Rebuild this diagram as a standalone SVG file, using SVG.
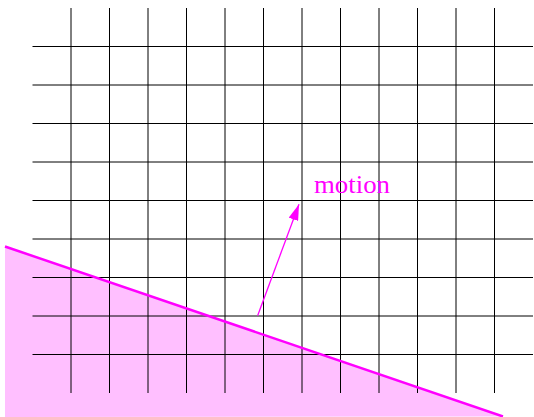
<svg xmlns="http://www.w3.org/2000/svg" width="534" height="417" viewBox="0 0 534 417">
  <defs>
    <style>
      .grid line { stroke: #000; stroke-width: 1; }
      .label { font-family: "Liberation Serif", "Times New Roman", serif; font-size: 25px; fill: #ff00ff; }
    </style>
    <marker id="arrow" markerUnits="userSpaceOnUse" markerWidth="16" markerHeight="10" refX="16" refY="5" orient="auto">
      <path d="M0,0 L16,5 L0,10 Z" fill="#ff00ff"/>
    </marker>
  </defs>
  <rect width="534" height="417" fill="#fff"/>
  <g id="region">
    <polygon points="5,246.5 503,416.5 5,417" fill="#ffbfff"/>
  </g>
  <g class="grid" id="grid">
    <line x1="71" y1="8" x2="71" y2="393"/>
    <line x1="109.5" y1="8" x2="109.5" y2="393"/>
    <line x1="148" y1="8" x2="148" y2="393"/>
    <line x1="186.5" y1="8" x2="186.5" y2="393"/>
    <line x1="225" y1="8" x2="225" y2="393"/>
    <line x1="263.5" y1="8" x2="263.5" y2="393"/>
    <line x1="302" y1="8" x2="302" y2="393"/>
    <line x1="340.5" y1="8" x2="340.5" y2="393"/>
    <line x1="379" y1="8" x2="379" y2="393"/>
    <line x1="417.5" y1="8" x2="417.5" y2="393"/>
    <line x1="456" y1="8" x2="456" y2="393"/>
    <line x1="494.5" y1="8" x2="494.5" y2="393"/>
    <line x1="32.5" y1="46.5" x2="533" y2="46.5"/>
    <line x1="32.5" y1="85" x2="533" y2="85"/>
    <line x1="32.5" y1="123.5" x2="533" y2="123.5"/>
    <line x1="32.5" y1="162" x2="533" y2="162"/>
    <line x1="32.5" y1="200.5" x2="533" y2="200.5"/>
    <line x1="32.5" y1="239" x2="533" y2="239"/>
    <line x1="32.5" y1="277.5" x2="533" y2="277.5"/>
    <line x1="32.5" y1="316" x2="533" y2="316"/>
    <line x1="32.5" y1="354.5" x2="533" y2="354.5"/>
  </g>
  <g id="edge">
    <line x1="5" y1="246.5" x2="503" y2="416.5" stroke="#ff00ff" stroke-width="2.5"/>
  </g>
  <g id="connectors">
    <line x1="257.7" y1="315.5" x2="299" y2="204.3" stroke="#ff00ff" stroke-width="1.3" marker-end="url(#arrow)"/>
  </g>
  <g id="motion-label">
    <text class="label" x="314" y="192.5" textLength="76" lengthAdjust="spacingAndGlyphs">motion</text>
  </g>
</svg>
